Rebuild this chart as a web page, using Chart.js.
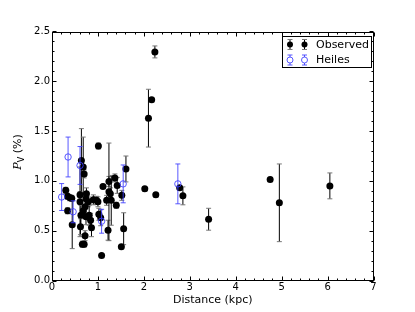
<!DOCTYPE html>
<html><head><meta charset="utf-8">
<script src="https://cdn.jsdelivr.net/npm/chart.js@4/dist/chart.umd.min.js"></script>
<style>html,body{margin:0;padding:0;background:#fff;}#wrap{width:415px;height:312px;}</style>
</head><body><div id="wrap"><canvas id="c" width="415" height="312"></canvas></div>
<script>
// ---- data ----
const obsX   = [0.30,0.34,0.39,0.43,0.34,0.44,0.64,0.68,0.70,0.61,0.61,0.63,0.62,0.66,0.70,0.72,0.68,0.72,0.74,0.75,0.79,0.74,0.81,0.84,0.86,0.90,0.97,1.00,1.02,1.06,1.08,1.11,1.19,1.22,1.24,1.24,1.27,1.29,1.37,1.40,1.42,1.51,1.52,1.56,1.61,1.01,2.02,2.10,2.17,2.24,2.26,2.78,2.85,3.41,4.75,4.95,6.05];
const obsY   = [0.905,0.845,0.83,0.825,0.70,0.56,1.205,1.14,1.07,0.86,0.79,0.655,0.54,0.365,0.365,0.45,0.70,0.74,0.82,0.87,0.79,0.64,0.655,0.605,0.53,0.81,0.805,0.79,0.665,0.63,0.25,0.945,0.805,0.505,0.995,0.89,0.87,0.805,1.03,0.755,0.955,0.34,0.855,0.52,1.12,1.35,0.92,1.63,1.815,2.295,0.86,0.93,0.85,0.615,1.015,0.78,0.95];
const obsErr = [0.03,0.03,0.03,0.03,0.03,0.24,0.32,0.30,0.04,0.03,0.35,0.10,0.08,0.03,0.03,0.05,0.06,0.10,0.07,0.06,0.05,0.08,0.10,0.07,0.09,0.05,0.04,0.05,0.06,0.08,0.0,0.02,0.05,0.10,0.05,0.49,0.06,0.25,0.04,0.03,0.08,0.02,0.05,0.16,0.13,0.03,0.02,0.29,0.02,0.06,0.02,0.02,0.09,0.11,0.02,0.39,0.13];
const heiX   = [0.21,0.35,0.46,0.61,1.08,1.55,2.74];
const heiY   = [0.838,1.24,0.69,1.155,0.595,0.97,0.97];
const heiErr = [0.135,0.20,0.11,0.19,0.12,0.19,0.20];
const xTickValues = [0,1,2,3,4,5,6,7];
const yTickValues = [0.0,0.5,1.0,1.5,2.0,2.5];
const xTitle = 'Distance (kpc)';
const seriesNames = ['Observed','Heiles'];

const BLUE = 'rgba(60,60,255,0.85)';
const FONT = '"DejaVu Sans", sans-serif';

function pts(xs, ys){ return xs.map((x,i)=>({x:x,y:ys[i]})); }

const errPlugin = {
  id:'errbars',
  beforeDatasetDraw(chart,args){
    const ds = chart.data.datasets[args.index];
    const errs = ds.errs; if(!errs) return;
    const xs = chart.scales.x, ys = chart.scales.y, ctx = chart.ctx, a = chart.chartArea;
    ctx.save();
    ctx.beginPath(); ctx.rect(a.left,a.top,a.right-a.left,a.bottom-a.top); ctx.clip();
    ds.data.forEach((p,i)=>{
      const px = xs.getPixelForValue(p.x);
      const y1 = ys.getPixelForValue(p.y+errs[i]), y2 = ys.getPixelForValue(p.y-errs[i]);
      ctx.strokeStyle = ds.barColor; ctx.lineWidth = 1;
      ctx.beginPath(); ctx.moveTo(px,y1); ctx.lineTo(px,y2); ctx.stroke();
      ctx.strokeStyle = ds.capColor;
      ctx.beginPath(); ctx.moveTo(px-2.5,y1); ctx.lineTo(px+2.5,y1); ctx.moveTo(px-2.5,y2); ctx.lineTo(px+2.5,y2); ctx.stroke();
    });
    ctx.restore();
  }
};

const framePlugin = {
  id:'frame',
  afterDraw(chart){
    const ctx = chart.ctx, a = chart.chartArea, xs = chart.scales.x, ys = chart.scales.y;
    ctx.save();
    ctx.strokeStyle = '#000'; ctx.lineWidth = 1;
    const L=Math.round(a.left)+0.5, R=Math.round(a.right)-0.5, T=Math.round(a.top)+0.5, B=Math.round(a.bottom)-0.5;
    ctx.strokeRect(L,T,R-L,B-T);
    ctx.beginPath();
    for(let v=0; v<=7.0001; v+=0.2){
      const px = Math.round(xs.getPixelForValue(v))+0.5;
      const major = Math.abs(v-Math.round(v))<1e-6;
      const len = major?4:2;
      ctx.moveTo(px,B); ctx.lineTo(px,B-len);
      ctx.moveTo(px,T); ctx.lineTo(px,T+len);
    }
    for(let v=0; v<=2.5001; v+=0.1){
      const py = Math.round(ys.getPixelForValue(v))+0.5;
      const major = Math.abs(v*2-Math.round(v*2))<1e-6;
      const len = major?4:2;
      ctx.moveTo(L,py); ctx.lineTo(L+len,py);
      ctx.moveTo(R,py); ctx.lineTo(R-len,py);
    }
    ctx.stroke();
    // y title: P_V (%)
    ctx.translate(21, (a.top+a.bottom)/2 - 4);
    ctx.rotate(-Math.PI/2);
    ctx.fillStyle = '#000'; ctx.textBaseline = 'alphabetic';
    ctx.font = 'italic 11px "DejaVu Serif", serif';
    const wP = ctx.measureText('P').width;
    ctx.font = '8px "DejaVu Sans", sans-serif';
    const wV = ctx.measureText('V').width;
    ctx.font = '11px ' + FONT;
    const wR = ctx.measureText(' (%)').width;
    let x0 = -(wP+wV+wR)/2;
    ctx.font = 'italic 11px "DejaVu Serif", serif'; ctx.fillText('P', x0, 0);
    ctx.font = '8px "DejaVu Sans", sans-serif'; ctx.fillText('V', x0+wP, 3);
    ctx.font = '11px ' + FONT; ctx.fillText(' (%)', x0+wP+wV, 0);
    ctx.restore();
    // legend
    ctx.save();
    const bx=282.5, by=36.5, bw=89, bh=31;
    ctx.fillStyle='#fff'; ctx.fillRect(bx,by,bw,bh);
    ctx.strokeStyle='#000'; ctx.lineWidth=1; ctx.strokeRect(bx,by,bw,bh);
    const rows=[{y:44.5, ds:chart.data.datasets[0]},{y:60, ds:chart.data.datasets[1]}];
    rows.forEach((r,k)=>{
      [290,304.5].forEach(mx=>{
        ctx.strokeStyle=r.ds.barColor; ctx.lineWidth=1;
        ctx.beginPath(); ctx.moveTo(mx,r.y-5); ctx.lineTo(mx,r.y+5); ctx.stroke();
        ctx.strokeStyle=r.ds.capColor;
        ctx.beginPath(); ctx.moveTo(mx-2.5,r.y-5); ctx.lineTo(mx+2.5,r.y-5); ctx.moveTo(mx-2.5,r.y+5); ctx.lineTo(mx+2.5,r.y+5); ctx.stroke();
        ctx.beginPath(); ctx.arc(mx,r.y,3,0,Math.PI*2);
        if(k===0){ctx.fillStyle='#000'; ctx.fill();}
        else {ctx.fillStyle='#fff'; ctx.fill(); ctx.strokeStyle=BLUE; ctx.stroke();}
      });
      ctx.fillStyle='#000'; ctx.font='11px '+FONT; ctx.textBaseline='middle'; ctx.textAlign='left';
      ctx.fillText(seriesNames[k], 316, r.y+0.5);
    });
    ctx.restore();
  }
};

new Chart(document.getElementById('c'), {
  type:'scatter',
  data:{datasets:[
    {label:seriesNames[0], data:pts(obsX,obsY), errs:obsErr, barColor:'#000', capColor:'#777',
     pointRadius:3.5, pointBackgroundColor:'#000', pointBorderColor:'#000', pointBorderWidth:0, order:1},
    {label:seriesNames[1], data:pts(heiX,heiY), errs:heiErr, barColor:BLUE, capColor:BLUE,
     pointRadius:3.2, pointBackgroundColor:'rgba(0,0,0,0)', pointBorderColor:BLUE, pointBorderWidth:1, order:0}
  ]},
  options:{
    responsive:false, animation:false, devicePixelRatio:1,
    layout:{padding:{left:0,right:41.5,top:31.5,bottom:0}},
    plugins:{legend:{display:false}, tooltip:{enabled:false}},
    scales:{
      x:{type:'linear', min:0, max:7,
        afterBuildTicks(s){ s.ticks = xTickValues.map(v=>({value:v})); },
        ticks:{color:'#000', font:{family:FONT,size:10}, padding:1, maxRotation:0, callback:v=>String(v)},
        grid:{display:false, drawTicks:false}, border:{display:false},
        title:{display:true, text:xTitle, color:'#000', font:{family:FONT,size:11}, padding:{top:0,bottom:5}},
        afterFit(s){ s.height = 31.5; }
      },
      y:{type:'linear', min:0, max:2.5,
        afterBuildTicks(s){ s.ticks = yTickValues.map(v=>({value:v})); },
        ticks:{color:'#000', font:{family:FONT,size:10}, padding:2, callback:v=>Number(v).toFixed(1)},
        grid:{display:false, drawTicks:false}, border:{display:false},
        afterFit(s){ s.width = 52; }
      }
    }
  },
  plugins:[errPlugin, framePlugin]
});
</script></body></html>
